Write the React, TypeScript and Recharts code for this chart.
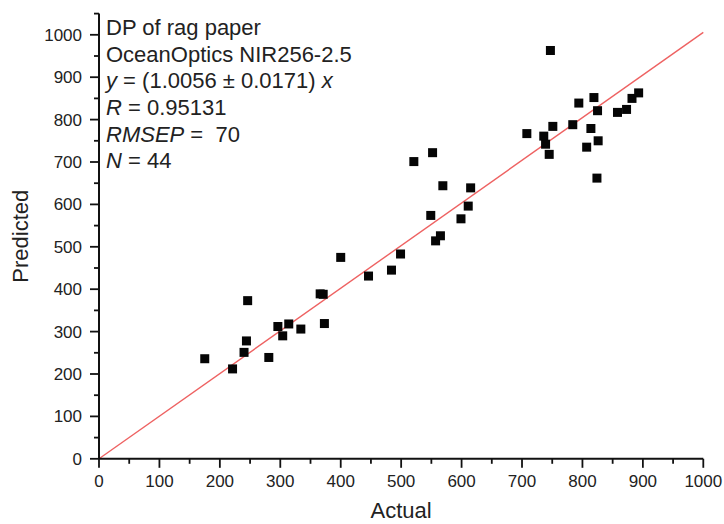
import React from "react"
import { ScatterChart, Scatter, XAxis, YAxis, ReferenceLine, Label } from "recharts"

// values (Actual vs Predicted DP)
const actualValues = [
  175, 221, 240, 244, 246, 281, 296, 304, 314, 334, 366, 371, 373, 400, 446, 484, 499, 521, 549, 552, 557, 565,
  569, 599, 611, 615, 708, 736, 739, 745, 747, 751, 784, 794, 807, 814, 819, 824, 825, 826, 858, 873, 882, 893,
]
const predictedValues = [
  236, 212, 251, 278, 373, 239, 312, 290, 318, 306, 389, 388, 319, 475, 431, 445, 483, 701, 574, 722, 514, 526,
  644, 566, 596, 639, 767, 761, 742, 718, 963, 784, 788, 839, 735, 779, 852, 662, 821, 750, 817, 824, 850, 863,
]
const xTicks = [0, 50, 100, 150, 200, 250, 300, 350, 400, 450, 500, 550, 600, 650, 700, 750, 800, 850, 900, 950, 1000]
const yTicks = [
  0, 50, 100, 150, 200, 250, 300, 350, 400, 450, 500, 550, 600, 650, 700, 750, 800, 850, 900, 950, 1000, 1050,
]
const fitSlope = 1.0056

const points = actualValues.map((a, i) => ({ actual: a, predicted: predictedValues[i] }))

const FONT = '"Liberation Sans", Arial, sans-serif'

function XTick(props: any) {
  const { x, y, payload } = props
  const v = payload.value
  const major = v % 100 === 0
  return (
    <g>
      <line x1={x} y1={y} x2={x} y2={y + (major ? 9 : 5)} stroke="#111" strokeWidth={1.8} />
      {major && (
        <text x={x} y={y + 28.5} textAnchor="middle" fontSize={17} fill="#222" fontFamily={FONT}>
          {v}
        </text>
      )}
    </g>
  )
}

function YTick(props: any) {
  const { x, y, payload } = props
  const v = payload.value
  const major = v % 100 === 0
  return (
    <g>
      <line x1={x - (major ? 9 : 5)} y1={y} x2={x} y2={y} stroke="#111" strokeWidth={1.8} />
      {major && (
        <text x={x - 17} y={y + 6} textAnchor="end" fontSize={17} fill="#222" fontFamily={FONT}>
          {v}
        </text>
      )}
    </g>
  )
}

function Square(props: any) {
  const { cx, cy } = props
  return <rect x={cx - 4.5} y={cy - 4.5} width={9} height={9} fill="#050505" />
}

export default function App() {
  return (
    <div style={{ position: "absolute", left: 0, top: 0, width: 724, height: 524, background: "#fff" }}>
      <ScatterChart width={724} height={524} margin={{ top: 13.6, right: 20.7, bottom: 25.2, left: 0 }}>
        <XAxis
          type="number"
          dataKey="actual"
          domain={[0, 1000]}
          ticks={xTicks}
          interval={0}
          tickSize={0}
          tickMargin={0}
          tickLine={false}
          axisLine={{ stroke: "#111", strokeWidth: 2 }}
          height={40}
          tick={<XTick />}
        >
          <Label
            content={(p: any) => {
              const vb = p.viewBox || { x: 99, y: 458.8, width: 604 }
              return (
                <text x={vb.x + vb.width / 2} y={vb.y + 59.5} textAnchor="middle" fontSize={22} fill="#222" fontFamily={FONT}>
                  Actual
                </text>
              )
            }}
          />
        </XAxis>
        <YAxis
          type="number"
          dataKey="predicted"
          domain={[0, 1050]}
          ticks={yTicks}
          interval={0}
          tickSize={0}
          tickMargin={0}
          tickLine={false}
          axisLine={{ stroke: "#111", strokeWidth: 2 }}
          width={99}
          tick={<YTick />}
        >
          <Label
            content={(p: any) => {
              const vb = p.viewBox || { x: 0, y: 13.6, height: 445 }
              const cx = vb.x + 28
              const cy = vb.y + vb.height / 2
              return (
                <text
                  x={cx}
                  y={cy}
                  transform={`rotate(-90 ${cx} ${cy})`}
                  textAnchor="middle"
                  fontSize={22}
                  fill="#222"
                  fontFamily={FONT}
                >
                  Predicted
                </text>
              )
            }}
          />
        </YAxis>
        <ReferenceLine
          segment={[
            { x: 0, y: 0 },
            { x: 1000, y: 1000 * fitSlope },
          ]}
          stroke="#ee6262"
          strokeWidth={1.4}
          ifOverflow="visible"
        />
        <Scatter data={points} shape={<Square />} isAnimationActive={false} />
      </ScatterChart>
      <div
        style={{
          position: "absolute",
          left: 106,
          top: 15.3,
          fontFamily: FONT,
          fontSize: 22,
          lineHeight: "26.6px",
          color: "#222",
          whiteSpace: "pre",
        }}
      >
        <div>DP of rag paper</div>
        <div>OceanOptics NIR256-2.5</div>
        <div>
          <i>y</i> = (1.0056 ± 0.0171) <i>x</i>
        </div>
        <div>
          <i>R</i> = 0.95131
        </div>
        <div>
          <i>RMSEP</i> =  70
        </div>
        <div>
          <i>N</i> = 44
        </div>
      </div>
    </div>
  )
}
